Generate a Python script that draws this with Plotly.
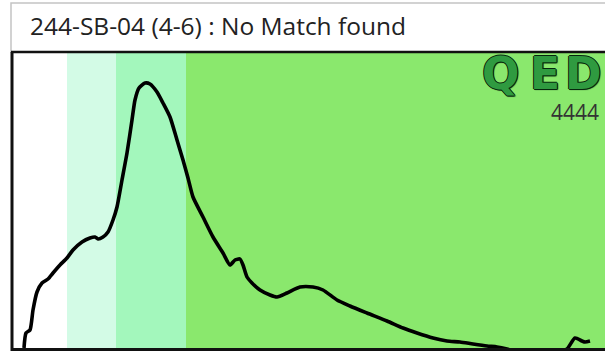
import plotly.graph_objects as go

# Detector trace (signal offset vs. intensity)
trace_x = [12, 14, 18, 21, 25, 30, 36, 41, 48, 55, 61, 70, 78, 83, 86, 91, 96, 101,
           105, 110, 115, 120, 123, 127, 133, 138, 145, 151, 158, 165, 171, 176,
           181, 191, 201, 211, 218, 223, 228, 231, 235, 240, 248, 258, 265, 275,
           288, 301, 311, 325, 338, 355, 375, 391, 405, 421, 435, 448, 461, 475,
           485, 495, 510, 530, 548, 555, 563, 570, 573, 578]
trace_y = [1, 16, 19, 39, 57, 66, 70, 76, 84, 91, 99, 107, 111, 112, 110, 112, 117,
           129, 142, 169, 196, 229, 249, 261, 266, 265, 257, 246, 232, 209, 189,
           171, 152, 132, 112, 96, 84, 89, 90, 84, 72, 66, 59, 54, 52, 56, 62, 62,
           59, 49, 43, 36, 28, 21, 16, 11, 8, 7, 5, 3, 2, 0, -4, -6, -3, 0, 11, 8,
           7, 8]

# Region boundaries along the signal axis and their fills
band_edges = [0, 55, 104, 174, 600]
band_colors = ["#ffffff", "#d3fbe6", "#a3f7bc", "#8ae86d"]

title_text = "244-SB-04 (4-6) : No Match found"
logo_letters = ["Q", "E", "D"]
code_text = "4444"

W, H = 605, 351
L, T, B = 12, 52, 2
PW, PH = W - L, H - T - B


def px_x(p):
    return (p - L) / PW


def px_y(p):
    return (H - B - p) / PH


fig = go.Figure()
fig.add_trace(go.Scatter(
    x=trace_x, y=trace_y, mode="lines",
    line=dict(color="#000000", width=3.6, shape="spline", smoothing=0.6),
    hoverinfo="skip", showlegend=False,
))

shapes = []
for x0, x1, c in zip(band_edges[:-1], band_edges[1:], band_colors):
    shapes.append(dict(type="rect", xref="x", yref="paper", x0=x0, x1=x1,
                       y0=0, y1=1, fillcolor=c, line=dict(width=0), layer="below"))

# Title panel outline
shapes.append(dict(type="rect", xref="paper", yref="paper",
                   x0=px_x(11), x1=px_x(608), y0=px_y(3), y1=px_y(52),
                   line=dict(color="#c4c4c4", width=1.5), layer="above"))
# Plot frame: left, top and bottom edges
shapes.append(dict(type="line", xref="paper", yref="paper",
                   x0=px_x(12), x1=px_x(12), y0=px_y(351), y1=px_y(52),
                   line=dict(color="#111111", width=3)))
shapes.append(dict(type="line", xref="paper", yref="paper",
                   x0=px_x(11), x1=px_x(610), y0=px_y(52), y1=px_y(52),
                   line=dict(color="#111111", width=2.5)))
shapes.append(dict(type="line", xref="paper", yref="paper",
                   x0=px_x(11), x1=px_x(610), y0=px_y(349.5), y1=px_y(349.5),
                   line=dict(color="#111111", width=3)))

annotations = [
    dict(text=title_text, xref="paper", yref="paper", x=px_x(28), y=px_y(26),
         xanchor="left", yanchor="middle", showarrow=False,
         font=dict(family="Open Sans", size=24.5, color="#222222")),
    dict(text=code_text, xref="paper", yref="paper", x=px_x(601), y=px_y(112),
         xanchor="right", yanchor="middle", showarrow=False,
         font=dict(family="Open Sans", size=21, color="#333333")),
]

# Outlined logo lettering, one glyph per annotation to get the wide spacing
logo_centres = [500, 545, 583]
outline = ("1px 0px 0px #06260c, -1px 0px 0px #06260c, 0px 1px 0px #06260c, "
           "0px -1px 0px #06260c, 1px 1px 1px #06260c")
for ch, cx in zip(logo_letters, logo_centres):
    annotations.append(dict(
        text=ch, xref="paper", yref="paper", x=px_x(cx), y=px_y(73),
        xanchor="center", yanchor="middle", showarrow=False,
        font=dict(family="DejaVu Sans", size=44, color="#2f9a40", weight="bold",
                  shadow=outline)))

fig.update_layout(
    width=W, height=H,
    margin=dict(l=L, r=0, t=T, b=B, pad=0),
    paper_bgcolor="#ffffff", plot_bgcolor="#ffffff",
    xaxis=dict(range=[0, PW], visible=False, fixedrange=True),
    yaxis=dict(range=[0, PH], visible=False, fixedrange=True),
    shapes=shapes, annotations=annotations, showlegend=False,
)

fig.write_html("out.html", config={"displayModeBar": False})
